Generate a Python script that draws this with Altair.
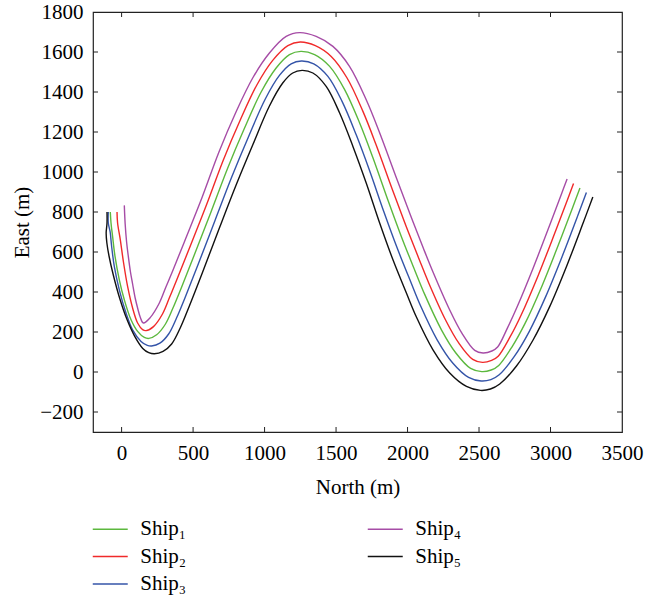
import altair as alt
import pandas as pd

# ---- data (North, East in metres) ----
ships = ["Ship₁", "Ship₂", "Ship₃", "Ship₄", "Ship₅"]
ship_colors = ["#5cb83e", "#f02a2a", "#3454a8", "#a64ca6", "#111111"]

ship1_n = [-79, -74, -63, -46, -16, 19, 66, 112, 159, 191, 245, 307, 360, 416, 507, 624, 741, 857, 976, 1081, 1174, 1254,
           1350, 1455, 1560, 1665, 1756, 1865, 1959, 2051, 2120, 2237, 2338, 2441, 2519,
           2585, 2638, 2731, 2822, 2939, 3056, 3153, 3206]
ship1_e = [800, 745, 678, 578, 461, 361, 261, 203, 173, 168, 186, 240, 321, 418, 583, 798, 1018, 1215, 1400, 1520, 1587, 1603,
           1587, 1528, 1412, 1245, 1075, 855, 673, 508, 388, 211, 95, 18, 2,
           10, 33, 126, 243, 428, 637, 819, 920]

ship2_n = [-32, -28, -9, 14, 42, 77, 112, 147, 171, 223, 286, 335, 386, 477, 594, 711, 827, 946, 1057, 1163, 1249,
           1355, 1466, 1577, 1688, 1778, 1895, 1990, 2081, 2149, 2266, 2359, 2456, 2524,
           2588, 2634, 2716, 2794, 2911, 3028, 3116, 3161]
ship2_e = [800, 745, 661, 545, 428, 320, 245, 212, 207, 227, 290, 372, 461, 624, 836, 1059, 1255, 1435, 1558, 1632, 1650,
           1632, 1578, 1470, 1303, 1140, 910, 729, 564, 444, 260, 144, 63, 48,
           58, 79, 174, 284, 478, 691, 856, 943]

ship3_n = [-93, -93, -80, -70, -51, -16, 31, 77, 136, 180, 210, 268, 329, 385, 445, 537, 654, 771, 887, 1005, 1104, 1186, 1258,
           1344, 1443, 1542, 1641, 1733, 1835, 1929, 2022, 2091, 2207, 2316, 2427, 2515,
           2583, 2641, 2747, 2850, 2967, 3084, 3191, 3251]
ship3_e = [800, 745, 700, 630, 528, 411, 295, 211, 153, 133, 130, 144, 190, 271, 374, 541, 759, 976, 1175, 1365, 1483, 1541, 1555,
           1541, 1478, 1353, 1186, 1010, 800, 617, 451, 331, 161, 45, -27, -45,
           -38, -14, 78, 201, 378, 582, 782, 898]

ship4_n = [19, 25, 35, 47, 62, 77, 95, 112, 130, 152, 200, 264, 310, 357, 447, 564, 681, 797, 917, 1034, 1151, 1245,
           1361, 1478, 1594, 1711, 1800, 1925, 2020, 2110, 2178, 2295, 2380, 2470, 2528,
           2590, 2630, 2700, 2766, 2883, 3000, 3078, 3116]
ship4_e = [833, 740, 650, 578, 500, 440, 370, 320, 275, 245, 272, 345, 425, 505, 665, 875, 1100, 1295, 1470, 1595, 1678, 1697,
           1678, 1628, 1528, 1361, 1205, 965, 785, 620, 500, 310, 194, 108, 95,
           105, 125, 222, 325, 528, 745, 893, 965]

ship5_n = [-102, -102, -108, -103, -88, -58, -14, 38, 92, 148, 190, 229, 290, 350, 410, 474, 567, 684, 801, 917, 1034, 1127, 1197, 1262,
           1338, 1431, 1525, 1618, 1711, 1805, 1898, 1992, 2062, 2178, 2295, 2412, 2510,
           2580, 2645, 2762, 2878, 2995, 3112, 3228, 3296]
ship5_e = [800, 745, 695, 645, 580, 485, 370, 262, 178, 118, 97, 91, 103, 140, 220, 330, 500, 720, 935, 1135, 1330, 1445, 1495, 1508,
           1495, 1428, 1295, 1128, 945, 745, 561, 395, 275, 111, -5, -72, -92,
           -85, -60, 30, 160, 328, 528, 745, 875]

x_ticks = [0, 500, 1000, 1500, 2000, 2500, 3000, 3500]
y_ticks = [-200, 0, 200, 400, 600, 800, 1000, 1200, 1400, 1600, 1800]

# ---- build table ----
rows = []
for name, ns, es in zip(ships,
                        [ship1_n, ship2_n, ship3_n, ship4_n, ship5_n],
                        [ship1_e, ship2_e, ship3_e, ship4_e, ship5_e]):
    for i, (n, e) in enumerate(zip(ns, es)):
        rows.append({"ship": name, "N": n, "E": e, "seq": i})
df = pd.DataFrame(rows)

FONT = "Liberation Serif"
FS = 21
W, H = 529, 420
FRAME = "#222222"

xscale = alt.Scale(domain=[-200, 3500], nice=False, zero=False)
yscale = alt.Scale(domain=[-300, 1800], nice=False, zero=False)

xaxis = alt.Axis(values=x_ticks, title="North (m)", domain=False, ticks=False, grid=False, format="d",
                 labelPadding=10, titlePadding=13, labelFlush=False, labelOverlap=False)
yaxis = alt.Axis(values=y_ticks, title="East (m)", domain=False, ticks=False, grid=False, format="d",
                 labelPadding=10, titlePadding=7, labelFlush=False, labelOverlap=False)

lines = alt.Chart(df).mark_line(strokeWidth=1.4, interpolate="catmull-rom").encode(
    x=alt.X("N:Q", scale=xscale, axis=xaxis, title="North (m)"),
    y=alt.Y("E:Q", scale=yscale, axis=yaxis, title="East (m)"),
    color=alt.Color("ship:N",
                    scale=alt.Scale(domain=ships, range=ship_colors),
                    legend=alt.Legend(title=None, orient="none", legendX=6.75, legendY=506.5,
                                      columns=2, columnPadding=178, rowPadding=5.5,
                                      direction="vertical",
                                      symbolType="M-2,0L2,0", symbolSize=306,
                                      symbolStrokeWidth=1.5, labelOffset=19.5,
                                      labelFont=FONT, labelFontSize=FS, labelColor="#000",
                                      padding=0)),
    order=alt.Order("seq:Q"),
)

xt = pd.DataFrame({"v": x_ticks[:-1]})
yt = pd.DataFrame({"v": y_ticks[:-1]})

xt_bottom = alt.Chart(xt).mark_rule(color=FRAME, strokeWidth=1).encode(
    x=alt.X("v:Q", scale=xscale, axis=xaxis, title="North (m)"),
    y=alt.value(H), y2=alt.value(H - 5))
xt_top = alt.Chart(xt).mark_rule(color=FRAME, strokeWidth=1).encode(
    x=alt.X("v:Q", scale=xscale, axis=xaxis, title="North (m)"),
    y=alt.value(0), y2=alt.value(5))
yt_left = alt.Chart(yt).mark_rule(color=FRAME, strokeWidth=1).encode(
    y=alt.Y("v:Q", scale=yscale, axis=yaxis, title="East (m)"),
    x=alt.value(0), x2=alt.value(5))
yt_right = alt.Chart(yt).mark_rule(color=FRAME, strokeWidth=1).encode(
    y=alt.Y("v:Q", scale=yscale, axis=yaxis, title="East (m)"),
    x=alt.value(W), x2=alt.value(W - 5))

chart = alt.layer(lines, xt_bottom, xt_top, yt_left, yt_right).properties(
    width=W, height=H,
    padding={"left": 93, "top": 12, "right": 40, "bottom": 165},
    autosize=alt.AutoSizeParams(type="none"),
    background="white",
).configure_view(
    stroke=FRAME, strokeWidth=1.2
).configure_axis(
    labelFont=FONT, titleFont=FONT, labelFontSize=FS, titleFontSize=FS,
    titleFontWeight="normal", labelColor="#000", titleColor="#000",
)

chart.save("out.html", embed_options={"renderer": "svg", "actions": False})
